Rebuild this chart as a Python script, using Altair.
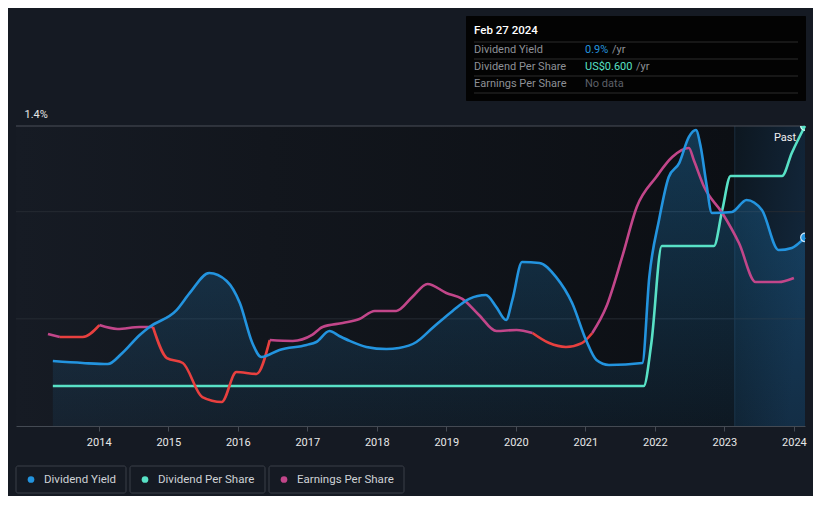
import altair as alt
import pandas as pd

# ---------------- data ----------------
YIELD_YEARS = [2013.34, 2013.77, 2014.13, 2014.34, 2014.59, 2014.73, 2015.12, 2015.31, 2015.59, 2015.84,
               2016.03, 2016.21, 2016.34, 2016.60, 2016.99, 2017.13, 2017.32, 2017.46, 2017.61, 2017.85,
               2018.14, 2018.32, 2018.57, 2018.80, 2019.09, 2019.33, 2019.57, 2019.72, 2019.86, 2019.95,
               2020.09, 2020.34, 2020.58, 2020.81, 2021.01, 2021.16, 2021.34, 2021.82, 2021.92, 2022.06,
               2022.20, 2022.35, 2022.49, 2022.59, 2022.66, 2022.74, 2022.82, 2023.11, 2023.32, 2023.54,
               2023.78, 2023.97, 2024.16]
YIELD_PCT = [0.303, 0.294, 0.289, 0.341, 0.425, 0.462, 0.541, 0.621, 0.714, 0.677,
             0.574, 0.387, 0.322, 0.355, 0.378, 0.392, 0.443, 0.420, 0.397, 0.369,
             0.359, 0.364, 0.392, 0.457, 0.537, 0.593, 0.611, 0.555, 0.495, 0.588,
             0.765, 0.761, 0.695, 0.574, 0.401, 0.308, 0.285, 0.294, 0.695, 0.961,
             1.162, 1.227, 1.349, 1.381, 1.302, 1.134, 0.994, 0.999, 1.055, 1.008,
             0.821, 0.831, 0.880]

DPS_YEARS = [2013.34, 2021.84, 2021.95, 2022.10, 2022.85, 2022.97, 2023.09, 2023.83, 2023.97, 2024.16]
DPS_USD = [0.08, 0.08, 0.166, 0.36, 0.36, 0.432, 0.50, 0.50, 0.546, 0.60]

EPS_YEARS = [2013.27, 2013.44, 2013.77, 2014.01, 2014.27, 2014.59, 2014.78, 2014.98, 2015.21, 2015.49,
             2015.77, 2015.98, 2016.27, 2016.46, 2016.79, 2017.07, 2017.22, 2017.51, 2017.75, 2017.97,
             2018.28, 2018.51, 2018.73, 2019.00, 2019.23, 2019.47, 2019.72, 2020.01, 2020.24, 2020.48,
             2020.72, 2020.95, 2021.10, 2021.30, 2021.53, 2021.74, 2022.02, 2022.25, 2022.49, 2022.56,
             2022.71, 2022.97, 2023.21, 2023.45, 2023.78, 2024.00]
EPS_VAL = [0.429, 0.415, 0.415, 0.471, 0.453, 0.462, 0.462, 0.317, 0.294, 0.135,
           0.112, 0.252, 0.243, 0.401, 0.397, 0.425, 0.462, 0.481, 0.499, 0.537,
           0.537, 0.602, 0.663, 0.621, 0.593, 0.518, 0.443, 0.448, 0.434, 0.387,
           0.369, 0.387, 0.434, 0.555, 0.789, 1.022, 1.162, 1.255, 1.297, 1.241,
           1.115, 0.994, 0.854, 0.672, 0.672, 0.691]
# spans where the EPS line is drawn red (declining)
EPS_RED_SPANS = [(2013.44, 2014.01), (2014.78, 2016.46), (2020.24, 2021.10)]

GRID_VALUES = [0.5, 1.0, 1.4]
X_TICKS = list(range(2014, 2025))
X_DOMAIN = [2012.81, 2024.16]
PAST_START = 2023.15

# ---------------- styles ----------------
BG = "#151a23"
BLUE = "#2394df"
TEAL = "#58e1c6"
MAGENTA = "#c2468a"
RED = "#e8403f"
FONT = "Roboto"
W, H = 789, 300

yld = pd.DataFrame({"year": YIELD_YEARS, "v": YIELD_PCT})
dps = pd.DataFrame({"year": DPS_YEARS, "v": DPS_USD})

bounds = sorted({EPS_YEARS[0], EPS_YEARS[-1]} | {b for s in EPS_RED_SPANS for b in s})
rows = []
for k in range(len(bounds) - 1):
    a, b = bounds[k], bounds[k + 1]
    col = "down" if (a, b) in EPS_RED_SPANS else "up"
    for yv, vv in zip(EPS_YEARS, EPS_VAL):
        if a - 1e-9 <= yv <= b + 1e-9:
            rows.append({"year": yv, "v": vv, "seg": k, "c": col})
eps = pd.DataFrame(rows)

xs = alt.Scale(domain=X_DOMAIN, nice=False, zero=False)
X = alt.X("year:Q", scale=xs, title=None,
          axis=alt.Axis(values=X_TICKS, format="d", grid=False, domainColor="#444a53",
                        tickColor="#444a53", tickSize=5, labelColor="#e8e8e8", labelFontSize=11,
                        labelFont=FONT, labelPadding=5, labelFlush=False))
ys_pct = alt.Scale(domain=[0, 1.4], nice=False, zero=True)
NOAX = None

one = pd.DataFrame({"k": [0]})

# background bands
band_df = pd.DataFrame({"year": [X_DOMAIN[0]], "year2": [PAST_START]})
past_df = pd.DataFrame({"year": [PAST_START], "year2": [X_DOMAIN[1]]})
bg_band = alt.Chart(band_df).mark_rect(
    fill=alt.LinearGradient(gradient="linear", x1=0, y1=0, x2=1, y2=0,
                            stops=[alt.GradientStop(color="#161b24", offset=0),
                                   alt.GradientStop(color="#12161d", offset=0.35),
                                   alt.GradientStop(color="#0c0f14", offset=1)])
).encode(x=X, x2="year2:Q", y=alt.value(0), y2=alt.value(H))
past_band = alt.Chart(past_df).mark_rect(
    fill=alt.LinearGradient(gradient="linear", x1=0, y1=0, x2=1, y2=0.4,
                            stops=[alt.GradientStop(color="#0d1720", offset=0),
                                   alt.GradientStop(color="#12263a", offset=1)])
).encode(x=X, x2="year2:Q", y=alt.value(0), y2=alt.value(H))
past_edge = alt.Chart(past_df).mark_rule(color="#1a2c3d", strokeWidth=1).encode(
    x=X, y=alt.value(0), y2=alt.value(H))

grid = alt.Chart(pd.DataFrame({"g": GRID_VALUES})).mark_rule(strokeWidth=1).encode(
    y=alt.Y("g:Q", scale=ys_pct, axis=NOAX),
    color=alt.condition("datum.g >= 1.4", alt.value("#4a4f58"), alt.value("#262b33")),
)

area = alt.Chart(yld).mark_area(
    interpolate="monotone",
    fill=alt.LinearGradient(gradient="linear", x1=0, y1=0, x2=0, y2=1,
                            stops=[alt.GradientStop(color="rgba(35,148,223,0.30)", offset=0),
                                   alt.GradientStop(color="rgba(35,148,223,0.07)", offset=1)])
).encode(x=X, y=alt.Y("v:Q", scale=ys_pct, axis=NOAX))

yline = alt.Chart(yld).mark_line(interpolate="monotone", color=BLUE, strokeWidth=2.6).encode(
    x=X,
    y=alt.Y("v:Q", scale=ys_pct, title=None,
            axis=alt.Axis(values=[0, 1.4], grid=False, domain=False, ticks=False,
                          labelExpr="datum.value == 0 ? '0%' : format(datum.value, '.1f') + '%'",
                          labelAlign="left", labelBaseline="bottom", labelPadding=-8, labelOffset=-7,
                          labelColor="#e6e6e6", labelFontSize=11, labelFont=FONT)))

dline = alt.Chart(dps).mark_line(interpolate="monotone", color=TEAL, strokeWidth=2.6).encode(
    x=X, y=alt.Y("v:Q", scale=alt.Scale(domain=[0, 0.6], nice=False), axis=NOAX))

eline = alt.Chart(eps).mark_line(interpolate="monotone", strokeWidth=2.6).encode(
    x=X, y=alt.Y("v:Q", scale=ys_pct, axis=NOAX),
    color=alt.Color("c:N", scale=alt.Scale(domain=["up", "down"], range=[MAGENTA, RED]), legend=None),
    detail="seg:N")

ydot = alt.Chart(yld.tail(1)).mark_circle(size=75, opacity=1, color=BLUE, stroke="#cfe8fb",
                                          strokeWidth=1.2, clip=True).encode(
    x=X, y=alt.Y("v:Q", scale=ys_pct, axis=NOAX))
ddot = alt.Chart(dps.tail(1)).mark_circle(size=75, opacity=1, color=TEAL, stroke="#d9fff6",
                                          strokeWidth=1.2, clip=True).encode(
    x=X, y=alt.Y("v:Q", scale=alt.Scale(domain=[0, 0.6], nice=False), axis=NOAX))


def txt(s, x, y, color, size=11, align="left", font=FONT, weight="normal"):
    return alt.Chart(one).mark_text(text=s, align=align, baseline="middle", color=color,
                                    fontSize=size, font=font, fontWeight=weight).encode(
        x=alt.value(x), y=alt.value(y))


def hline(x1, x2, y, color):
    return alt.Chart(one).mark_rule(color=color, strokeWidth=1).encode(
        x=alt.value(x1), x2=alt.value(x2), y=alt.value(y))


past_label = txt("Past", 769, 12, "#f0f0f0", size=11, align="center")

# tooltip box
tip_bg = alt.Chart(one).mark_rect(fill="#030303", cornerRadius=1).encode(
    x=alt.value(450), x2=alt.value(790), y=alt.value(-110), y2=alt.value(-25))
tip = [tip_bg,
       txt("Feb 27 2024", 458, -95, "#ffffff", size=11.5, weight=500),
       hline(458, 782, -84, "#2c2c2c"), hline(458, 782, -67, "#2c2c2c"),
       hline(458, 782, -50, "#2c2c2c"), hline(458, 782, -33, "#2c2c2c"),
       txt("Dividend Yield", 458, -76, "#8d9096"),
       txt("0.9%", 569, -76, BLUE), txt("/yr", 596, -76, "#8d9096"),
       txt("Dividend Per Share", 458, -59, "#8d9096"),
       txt("US$0.600", 569, -59, TEAL), txt("/yr", 620, -59, "#8d9096"),
       txt("Earnings Per Share", 458, -42, "#8d9096"),
       txt("No data", 569, -42, "#5d6068")]

# legend boxes
legend = []
for (x0, x1, label, col) in [(0, 110, "Dividend Yield", BLUE),
                             (114, 249, "Dividend Per Share", TEAL),
                             (253, 388, "Earnings Per Share", MAGENTA)]:
    legend.append(alt.Chart(one).mark_rect(fill=BG, stroke="#3a3f48", strokeWidth=1,
                                           cornerRadius=2).encode(
        x=alt.value(x0), x2=alt.value(x1), y=alt.value(340), y2=alt.value(367)))
    legend.append(alt.Chart(one).mark_circle(size=45, opacity=1, color=col).encode(
        x=alt.value(x0 + 15), y=alt.value(353.5)))
    legend.append(txt(label, x0 + 28, 353.5, "#cfd2d6", size=11.5, font=FONT))

chart = alt.layer(
    bg_band, past_band, past_edge, grid, area, dline, eline, yline, ydot, ddot, past_label,
    *tip, *legend
).resolve_scale(y="independent").properties(
    width=W, height=H, autosize="none",
    padding={"left": 8, "top": 118, "right": 8, "bottom": 70},
).configure(background=BG).configure_view(stroke=None)

chart.save("out.html", embed_options={"renderer": "svg", "actions": False})
